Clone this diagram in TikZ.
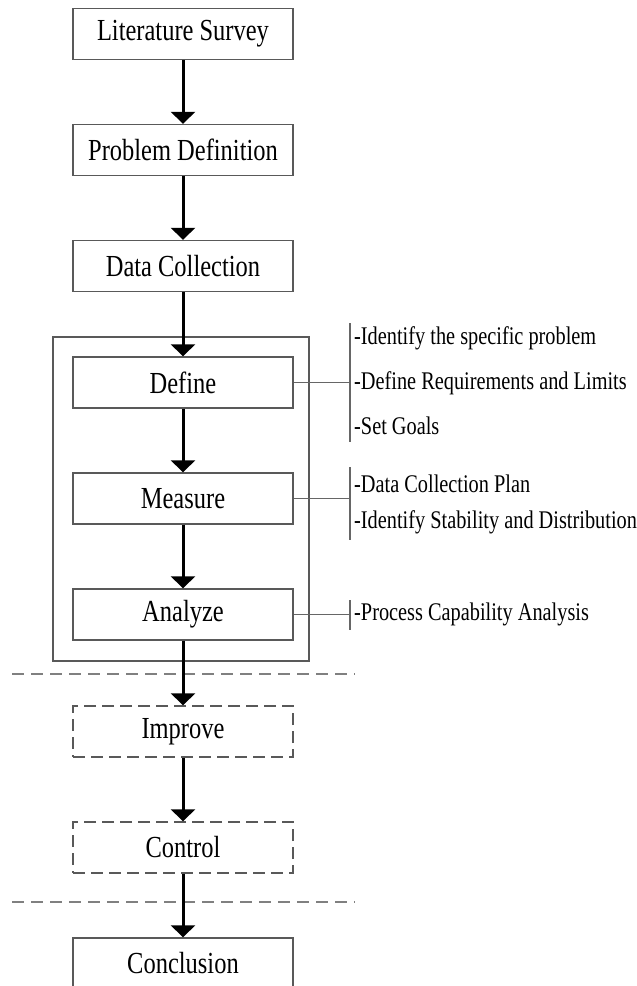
\documentclass[tikz,border=0pt]{standalone}
\usepackage{fontspec}
\setmainfont{Liberation Serif}[FakeStretch=0.8]
\usetikzlibrary{arrows.meta}
\begin{document}
\begin{tikzpicture}[x=1pt,y=-1pt,
  stepbox/.style={draw=black!65, line width=1.4pt, minimum width=220pt,
    minimum height=51pt, inner sep=0pt, font=\fontsize{30.6}{32}\selectfont},
  futurebox/.style={stepbox, dash pattern=on 12pt off 6pt},
  groupbox/.style={draw=black!65, line width=1.4pt, inner sep=0pt},
  flow/.style={line width=3pt, -{Triangle[width=24pt,length=12pt]}},
  note/.style={anchor=west, inner sep=0pt, font=\fontsize{25.4}{27}\selectfont},
  brace/.style={draw=black!60, line width=1.2pt},
  divider/.style={draw=black!50, line width=1.8pt, dash pattern=on 12pt off 7pt}]
\useasboundingbox (0,0) rectangle (637,986);
\clip (0,0) rectangle (637,986);

% DMAIC frame around the phases that were carried out
\node[groupbox, minimum width=256pt, minimum height=324pt] (dma) at (181,499) {};

% main flow
\node[stepbox] (lit)  at (183,34)    {Literature Survey};
\node[stepbox] (prob) at (183,150)   {Problem Definition};
\node[stepbox] (data) at (183,266)   {Data Collection};
\node[stepbox] (def)  at (183,382.5) {Define};
\node[stepbox] (meas) at (183,498.5) {Measure};
\node[stepbox] (ana)  at (183,614.5) {Analyze};
\node[futurebox] (imp)  at (183,731.5) {Improve};
\node[futurebox] (ctrl) at (183,847.5) {Control};
\node[stepbox] (conc) at (183,963.5) {Conclusion};

% scope dividers
\coordinate (d1l) at (12,674);  \coordinate (d1r) at (355,674);
\coordinate (d2l) at (12,902);  \coordinate (d2r) at (355,902);
\draw[divider] (d1l) -- (d1r);
\draw[divider] (d2l) -- (d2r);

% arrows
\draw[flow] (lit)  -- (prob);
\draw[flow] (prob) -- (data);
\draw[flow] (data) -- (def);
\draw[flow] (def)  -- (meas);
\draw[flow] (meas) -- (ana);
\draw[flow] (ana)  -- (imp);
\draw[flow] (imp)  -- (ctrl);
\draw[flow] (ctrl) -- (conc);

% activity notes
\node[note] (n1) at (354,338) {-Identify the specific problem};
\node[note] (n2) at (354,383) {-Define Requirements and Limits};
\node[note] (n3) at (354,426) {-Set Goals};
\node[note] (n4) at (354,484) {-Data Collection Plan};
\node[note] (n5) at (354,522) {-Identify Stability and Distribution};
\node[note] (n6) at (354,614) {-Process Capability Analysis};

% brackets linking phases to their notes
\coordinate (b1t) at (350,323); \coordinate (b1b) at (350,442);
\coordinate (b2t) at (350,467); \coordinate (b2b) at (350,540);
\coordinate (b3t) at (350,600); \coordinate (b3b) at (350,630);
\draw[brace] (b1t) -- (b1b);
\draw[brace] (b2t) -- (b2b);
\draw[brace] (b3t) -- (b3b);
\draw[brace] (def.east)  -- (def.east -| b1t);
\draw[brace] (meas.east) -- (meas.east -| b2t);
\draw[brace] (ana.east)  -- (ana.east -| b3t);
\end{tikzpicture}
\end{document}
